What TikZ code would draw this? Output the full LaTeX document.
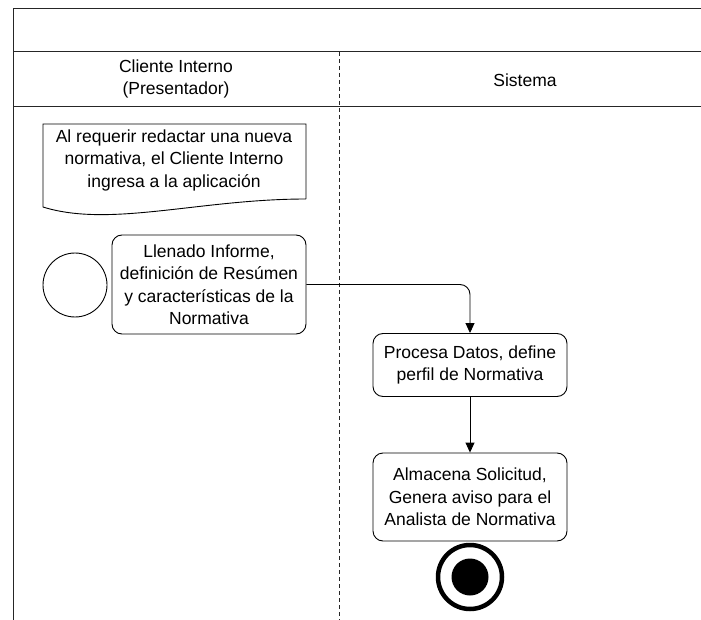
\documentclass[tikz,border=0pt]{standalone}
\usepackage{fontspec}
\setmainfont{Liberation Sans}
\usetikzlibrary{arrows.meta}
\begin{document}
\begin{tikzpicture}[x=1pt,y=-1pt,
  every node/.style={font=\fontsize{17.5}{22.5}\selectfont, align=center, inner sep=0pt},
  frame/.style={draw=black!85, line width=1pt},
  lanesep/.style={draw=black!85, line width=1pt, dash pattern=on 4pt off 3pt},
  activity/.style={draw, line width=0.9pt, rounded corners=10pt, minimum width=194pt},
  flow/.style={draw, line width=0.9pt, -{Triangle[length=10pt,width=9pt]}},
  startstate/.style={draw, circle, line width=0.9pt, minimum size=64pt},
]
\useasboundingbox (0,0) rectangle (701,620);

% swimlane frame
\draw[frame] (701,9) -- (13,9) -- (13,620);
\draw[frame] (13,52) -- (701,52);
\draw[frame] (13,107) -- (701,107);
\draw[lanesep] (339,52) -- (339,620);

% lane headers
\node (hcliente) at (176,79) {Cliente Interno\\(Presentador)};
\node (hsistema) at (525,80) {Sistema};

% note with wavy lower edge
\draw[line width=0.9pt] (306,199) -- (306,124) -- (43,124) -- (43,207)
  .. controls (110,228) and (200,199) .. (306,199);
\node (nota) at (174,160) {Al requerir redactar una nueva\\normativa, el Cliente Interno\\ingresa a la aplicaci\'on};

% initial state
\node[startstate] (inicio) at (75,285) {};

% activities
\node[activity, minimum height=99pt] (llenado) at (209,284.5)
  {Llenado Informe,\\definici\'on de Res\'umen\\y caracter\'isticas de la\\Normativa};
\node[activity, minimum height=63pt] (procesa) at (470,365)
  {Procesa Datos, define\\perfil de Normativa};
\node[activity, minimum height=88pt] (almacena) at (470,497)
  {Almacena Solicitud,\\Genera aviso para el\\Analista de Normativa};

% final state
\node[circle, draw, line width=4.5pt, minimum size=64pt] (fin) at (470,577) {};
\node[circle, fill=black, minimum size=37pt] (finin) at (fin.center) {};

% flows
\draw[flow, rounded corners=10pt] (llenado.east) -| (procesa.north);
\draw[flow] (procesa.south) -- (almacena.north);
\end{tikzpicture}
\end{document}
